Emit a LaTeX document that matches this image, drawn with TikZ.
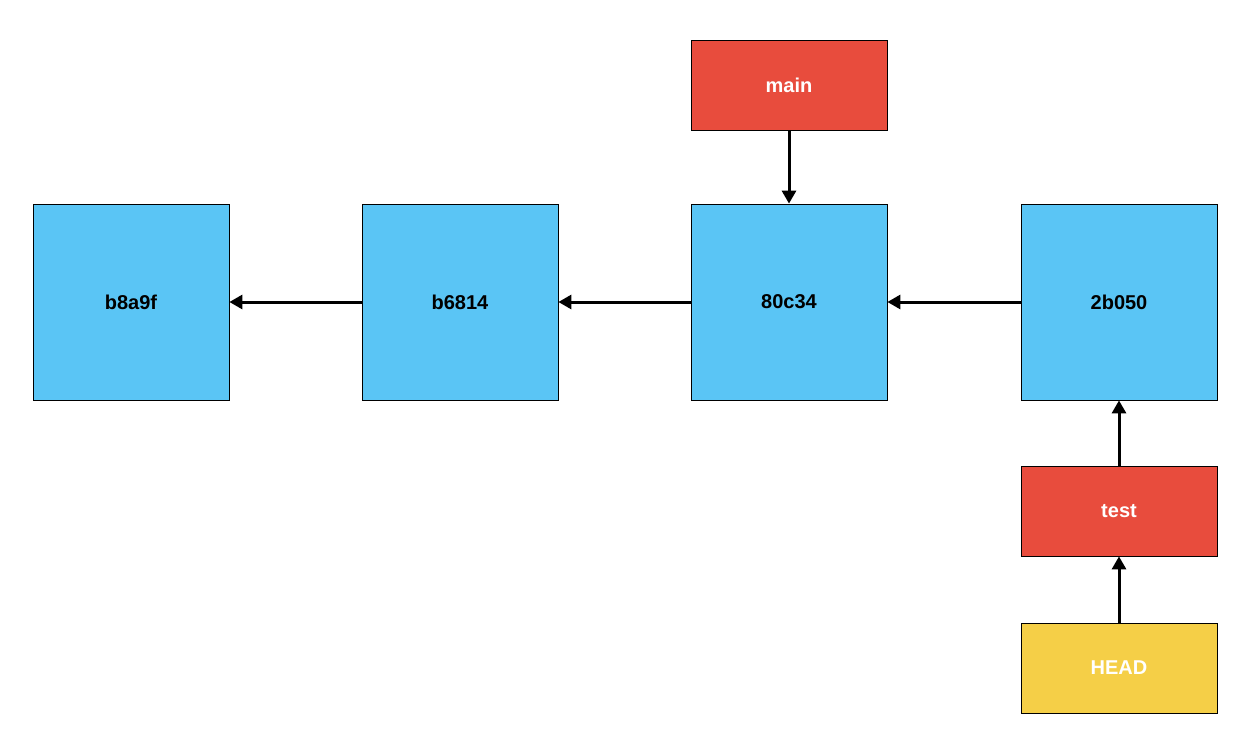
\documentclass[tikz,border=0pt]{standalone}
\usepackage{fontspec}
\setmainfont{Liberation Sans}
\usetikzlibrary{arrows.meta}
\definecolor{cblue}{HTML}{5AC5F5}
\definecolor{cred}{HTML}{E84C3D}
\definecolor{cyel}{HTML}{F5CF47}
\begin{document}
\begin{tikzpicture}[x=1pt,y=-1pt,
  commit/.style={draw=black,line width=0.8pt,fill=cblue,minimum width=196pt,minimum height=196pt,font=\bfseries\fontsize{20}{24}\selectfont,text=black},
  ref/.style={draw=black,line width=0.8pt,fill=cred,minimum width=196pt,minimum height=90pt,font=\bfseries\fontsize{20}{24}\selectfont,text=white},
  arr/.style={line width=3pt,-{Triangle[length=13pt,width=14pt]}}]
\useasboundingbox (0,0) rectangle (1260,741);
\node[commit] (a) at (131,302) {b8a9f};
\node[commit] (b) at (460,302) {b6814};
\node[commit] (c) at (789,302) {80c34};
\node[commit] (d) at (1119,302) {2b050};
\node[ref] (main) at (789,85) {main};
\node[ref] (test) at (1119,511) {test};
\node[ref,fill=cyel] (head) at (1119,668) {HEAD};
\draw[arr] (b) -- (a);
\draw[arr] (c) -- (b);
\draw[arr] (d) -- (c);
\draw[arr] (main) -- (c);
\draw[arr] (test) -- (d);
\draw[arr] (head) -- (test);
\end{tikzpicture}
\end{document}
